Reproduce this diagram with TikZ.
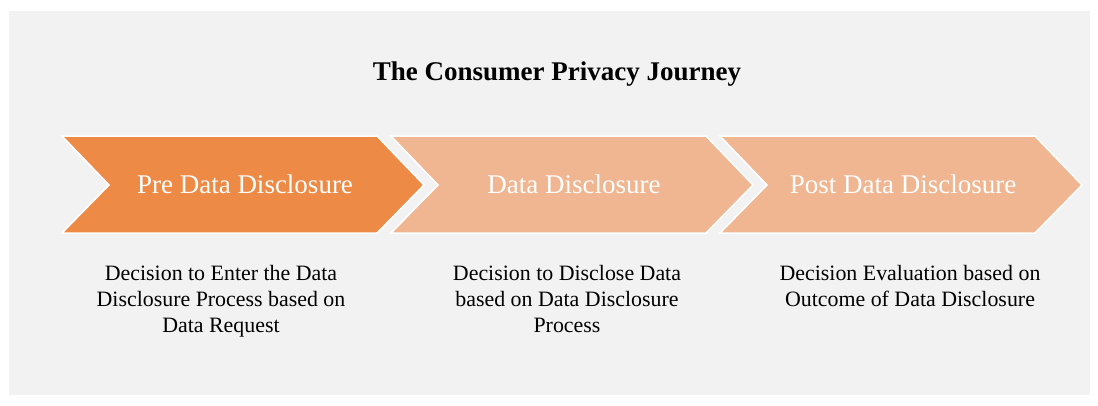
\documentclass[tikz,border=0pt]{standalone}
\usepackage{fontspec}
\setmainfont{Liberation Serif}
\definecolor{darkorange}{RGB}{237,138,70}
\definecolor{lightorange}{RGB}{240,182,145}
\definecolor{bggray}{RGB}{242,242,242}

\begin{document}
\begin{tikzpicture}[x=1pt,y=-1pt,
	chev/.style={draw=white,line width=1.5pt,line join=miter},
	steplabel/.style={text=white,font=\fontsize{27}{32}\selectfont,anchor=base,inner sep=0},
	desc/.style={align=center,font=\fontsize{21.9}{25.8}\selectfont,anchor=north,inner sep=0}]
	\useasboundingbox (0,0) rectangle (1098,405);
	\fill[bggray] (9,11) rectangle (1090,395);
	\node[font=\bfseries\fontsize{27}{32}\selectfont,anchor=base,inner sep=0] (title) at (557,80) {The Consumer Privacy Journey};
	% the three chevrons
	\foreach \x/\c in {62/darkorange,391/lightorange,720/lightorange}
		\draw[chev,fill=\c] (\x,136) -- ++(315,0) -- ++(47,49) -- ++(-47,48) -- ++(-315,0) -- ++(47,-48) -- cycle;
	\node[steplabel] (pre) at (245,193) {Pre Data Disclosure};
	\node[steplabel] (during) at (574,193) {Data Disclosure};
	\node[steplabel] (post) at (903,193) {Post Data Disclosure};
	% decisions below
	\node[desc] (predesc) at (221,265) {Decision to Enter the Data\\Disclosure Process based on\\Data Request};
	\node[desc] (duringdesc) at (567,265) {Decision to Disclose Data\\based on Data Disclosure\\Process};
	\node[desc] (postdesc) at (910,265) {Decision Evaluation based on\\Outcome of Data Disclosure};
\end{tikzpicture}
\end{document}
